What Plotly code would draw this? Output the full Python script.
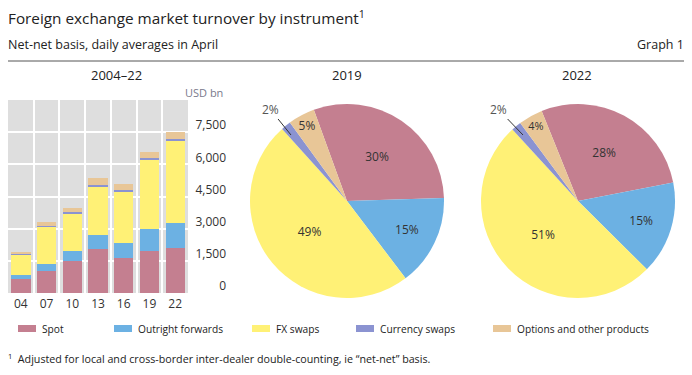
import plotly.graph_objects as go

# The page body has an 8px default margin, so the figure is sized to fit the 692x375 window.
OFF = 8
W, H = 692 - OFF, 375 - OFF

# ---------------- data ----------------
years = ["04", "07", "10", "13", "16", "19", "22"]
instruments = ["Spot", "Outright forwards", "FX swaps", "Currency swaps", "Options and other products"]
spot = [631, 1005, 1489, 2047, 1652, 1979, 2107]
outright_forwards = [209, 362, 475, 679, 700, 999, 1163]
fx_swaps = [954, 1714, 1759, 2240, 2378, 3202, 3810]
currency_swaps = [21, 31, 43, 54, 82, 108, 124]
options_other = [119, 212, 207, 337, 254, 294, 304]
y_ticks = [0, 1500, 3000, 4500, 6000, 7500]

pie_2019_values = [1979, 999, 3202, 108, 294]
pie_2019_labels = ["30%", "15%", "49%", "2%", "5%"]
pie_2022_values = [2107, 1163, 3810, 124, 304]
pie_2022_labels = ["28%", "15%", "51%", "2%", "4%"]

colors = ["#c47f90", "#6cb1e3", "#fff176", "#8b93d1", "#e8c697"]
FONT = "Open Sans"
TXT = "#222222"


def px(x):
    # window pixel -> paper fraction
    return max(0.0, (x - OFF) / W)


def py(y):
    return 1 - (y - OFF) / H


fig = go.Figure()

series = [spot, outright_forwards, fx_swaps, currency_swaps, options_other]
for name, vals, c in zip(instruments, series, colors):
    fig.add_trace(go.Bar(x=years, y=vals, name=name, marker=dict(color=c, line=dict(width=0)),
                         showlegend=False, xaxis="x", yaxis="y"))

for vals, labels, dom_x, rot in [
    (pie_2019_values, pie_2019_labels, [250, 444], -20),
    (pie_2022_values, pie_2022_labels, [481, 675], -22),
]:
    fig.add_trace(go.Pie(
        values=vals, labels=instruments, text=labels, textinfo="text",
        textposition=["inside", "inside", "inside", "none", "inside"],
        insidetextorientation="horizontal",
        sort=False, direction="clockwise", rotation=rot,
        marker=dict(colors=colors, line=dict(width=0)),
        textfont=dict(family=FONT, size=12, color="#333333"),
        domain=dict(x=[px(dom_x[0]), px(dom_x[1])], y=[py(298), py(104)]),
        showlegend=False, automargin=False,
    ))

fig.update_layout(
    width=W, height=H,
    margin=dict(l=0, r=0, t=0, b=0, autoexpand=False),
    paper_bgcolor="white",
    plot_bgcolor="#dedede",
    barmode="stack",
    bargap=0.25,
    showlegend=False,
    font=dict(family=FONT, color=TXT),
    xaxis=dict(domain=[px(6), px(188)], type="category", tickson="boundaries",
               showgrid=True, gridcolor="white", gridwidth=1.5, ticks="",
               showline=False, zeroline=False, automargin=False,
               tickfont=dict(size=12, color="#333333"), ticklabelstandoff=2),
    yaxis=dict(domain=[py(293), py(100)], range=[0, 9000], tickvals=y_ticks,
               tickformat=",", anchor="free", side="left", position=px(226),
               showgrid=True, gridcolor="white", gridwidth=1.5, ticks="",
               zeroline=False, showline=False, ticklabelshift=-7, automargin=False,
               tickfont=dict(size=12, color="#333333")),
)


def text_ann(x, y, text, size, xanchor="left", color=TXT):
    return dict(x=px(x), y=py(y), xref="paper", yref="paper", xanchor=xanchor, yanchor="middle",
                text=text, showarrow=False, borderpad=0, borderwidth=0,
                font=dict(size=size, color=color))


ann = []
ann.append(text_ann(8, 17.5, "Foreign exchange market turnover by instrument<sup>1</sup>", 15.3))
ann.append(text_ann(8, 44, "Net-net basis, daily averages in April", 12.5))
ann.append(text_ann(684, 44, "Graph 1", 12.5, xanchor="right"))
for t, x in [("2004–22", 116), ("2019", 347), ("2022", 577)]:
    ann.append(text_ann(x, 75, t, 13, xanchor="center"))
ann.append(text_ann(223, 93, "USD bn", 11, xanchor="right", color="#7a7a8c"))
# 2% labels with leader lines
ann.append(dict(x=px(291), y=py(135), xref="paper", yref="paper", ax=-21, ay=-26,
                text=pie_2019_labels[3], showarrow=True, arrowhead=0, arrowwidth=1, arrowcolor="#333333",
                standoff=0, font=dict(size=12, color="#555555")))
ann.append(dict(x=px(523), y=py(135), xref="paper", yref="paper", ax=-25, ay=-26,
                text=pie_2022_labels[3], showarrow=True, arrowhead=0, arrowwidth=1, arrowcolor="#333333",
                standoff=0, font=dict(size=12, color="#555555")))

# legend (manual)
legend_x = [18, 114, 252, 356, 493]
shapes = [dict(type="line", xref="paper", yref="paper", x0=0, x1=1, y0=py(61), y1=py(61),
               line=dict(color="#555555", width=1))]
for name, c, x in zip(instruments, colors, legend_x):
    shapes.append(dict(type="rect", xref="paper", yref="paper", x0=px(x), x1=px(x + 18),
                       y0=py(332), y1=py(325), fillcolor=c, line=dict(width=0)))
    ann.append(text_ann(x + 24, 328.5, name, 10.2))

ann.append(text_ann(8, 358,
                    "<sup>1</sup>  Adjusted for local and cross-border inter-dealer double-counting, ie “net-net” basis.",
                    10.7))

fig.update_layout(annotations=ann, shapes=shapes)
fig.write_html("out.html")
